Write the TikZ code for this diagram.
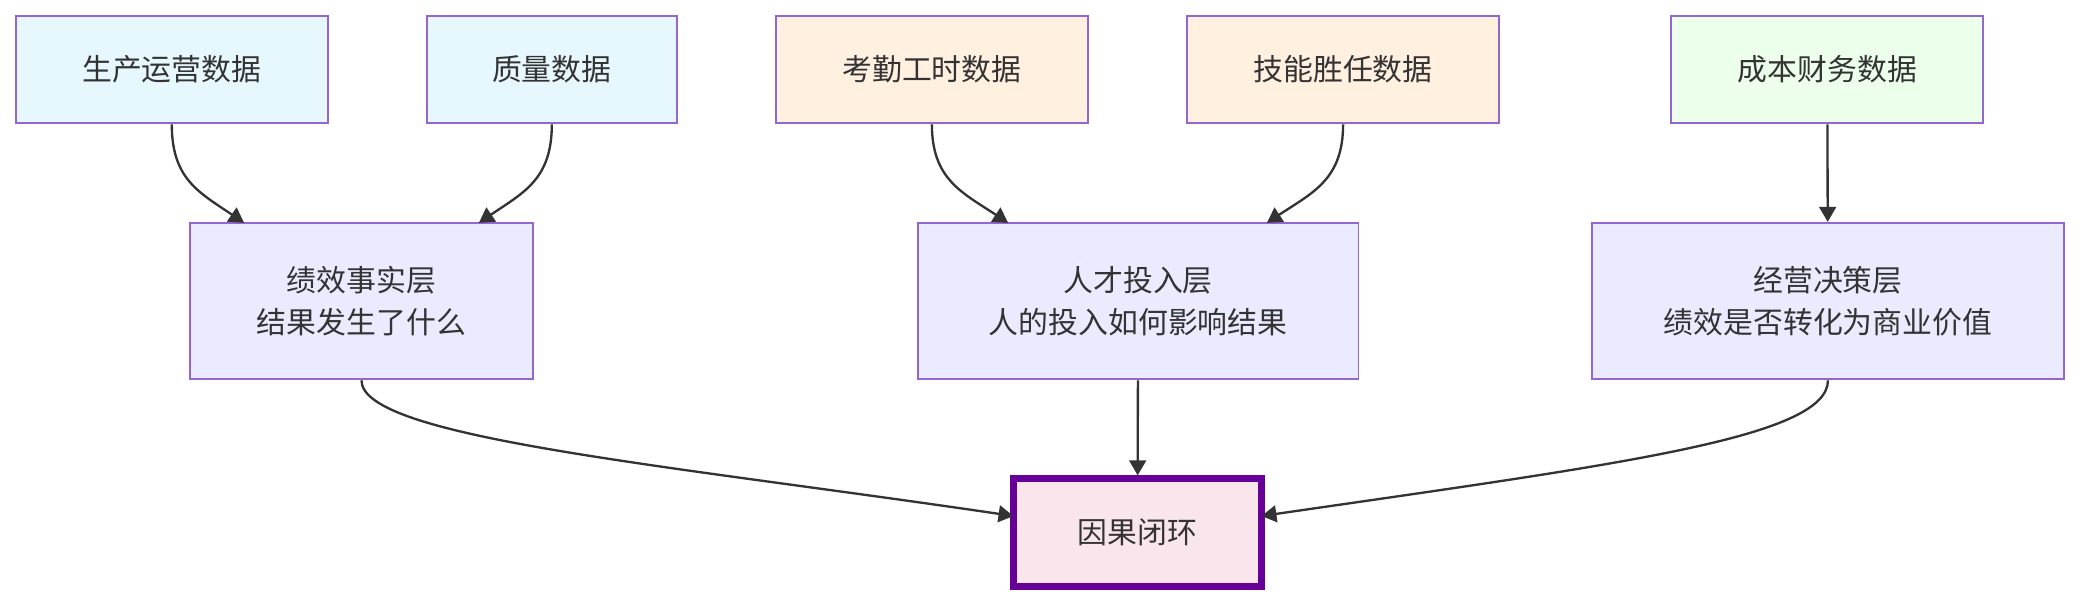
\documentclass[tikz,border=0pt]{standalone}
\usepackage{fontspec}
\setmainfont{Noto Sans CJK SC}
\usetikzlibrary{arrows.meta}
\begin{document}
\begin{tikzpicture}[x=0.01cm, y=-0.01cm, thick,
    font=\fontsize{6.4}{9}\selectfont, text=black!80,
    box/.style = {draw=violet!60!blue!60, line width=0.4pt, align=center, minimum height=0.81cm, inner sep=0pt},
    src/.style = {box, minimum width=2.35cm},
    layer/.style = {box, minimum height=1.18cm},
    link/.style = {draw=black!80, line width=0.5pt, -{Triangle[length=3.2pt, width=3.6pt]}}]
    \useasboundingbox (0,0) rectangle (1568,455);
    % data sources
    \node[src, fill=cyan!10] (prod) at (129.5,52.5) {生产运营数据};
    \node[src, fill=cyan!10, minimum width=1.88cm] (qual) at (416,52.5) {质量数据};
    \node[src, fill=orange!12] (att) at (702.5,52.5) {考勤工时数据};
    \node[src, fill=orange!12] (skill) at (1012.5,52.5) {技能胜任数据};
    \node[src, fill=green!8] (cost) at (1377.5,52.5) {成本财务数据};
    % layers
    \node[layer, fill=blue!8, minimum width=2.59cm] (perf) at (272.5,227) {绩效事实层\\结果发生了什么};
    \node[layer, fill=blue!8, minimum width=3.32cm] (talent) at (858,227) {人才投入层\\人的投入如何影响结果};
    \node[layer, fill=blue!8, minimum width=3.56cm] (biz) at (1378,227) {经营决策层\\绩效是否转化为商业价值};
    % result
    \node[box, fill=purple!10, draw=violet!80!blue, line width=1.5pt, minimum width=1.87cm] (loop) at (857.5,401.5) {因果闭环};
    \coordinate (p1) at (184,168);
    \coordinate (p2) at (361,168);
    \coordinate (t1) at (760,168);
    \coordinate (t2) at (955,168);
    \coordinate (l1) at (764,389);
    \coordinate (l2) at (951,389);
    \draw[link] (prod.south) .. controls (129.5,135) and (150,145) .. (p1);
    \draw[link] (qual.south) .. controls (416,135) and (395,145) .. (p2);
    \draw[link] (att.south) .. controls (702.5,135) and (725,145) .. (t1);
    \draw[link] (skill.south) .. controls (1012.5,135) and (990,145) .. (t2);
    \draw[link] (cost) -- (biz);
    \draw[link] (perf.south) .. controls (272.5,330) and (500,350) .. (l1);
    \draw[link] (talent) -- (loop);
    \draw[link] (biz.south) .. controls (1378,330) and (1220,350) .. (l2);
\end{tikzpicture}
\end{document}
